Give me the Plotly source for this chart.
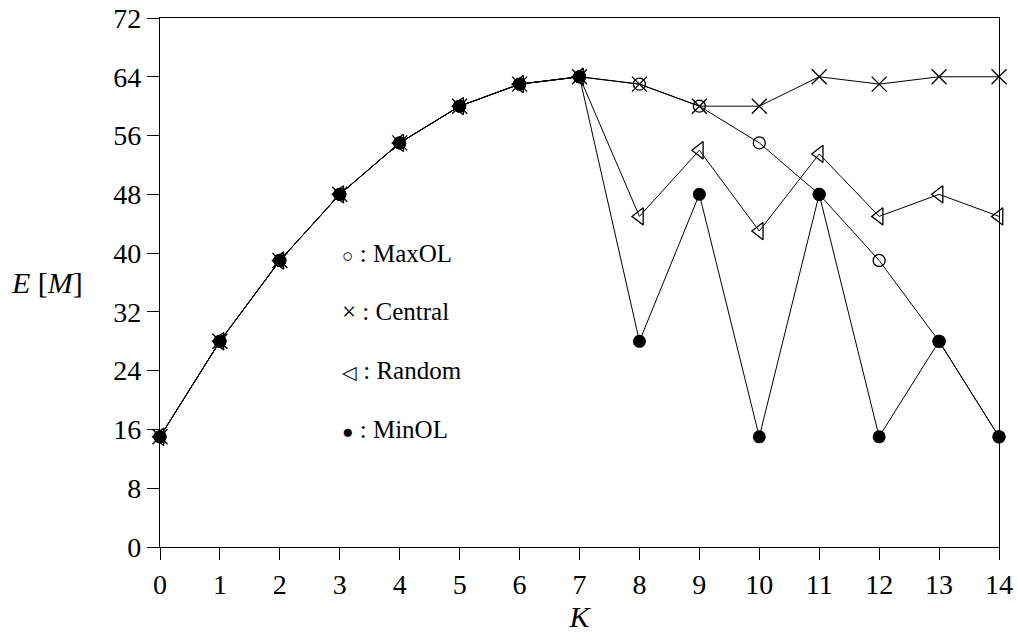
import plotly.graph_objects as go

K = list(range(15))
maxol = [15, 28, 39, 48, 55, 60, 63, 64, 63, 60, 55, 48, 39, 28, 15]
central = [15, 28, 39, 48, 55, 60, 63, 64, 63, 60, 60, 64, 63, 64, 64]
random_ = [15, 28, 39, 48, 55, 60, 63, 64, 45, 54, 43, 53.5, 45, 48, 45]
minol = [15, 28, 39, 48, 55, 60, 63, 64, 28, 48, 15, 48, 15, 28, 15]

legend_symbols = ["○", "×", "◁", "●"]
legend_sym_sizes = [19, 25, 19, 19]
legend_names = ["MaxOL", "Central", "Random", "MinOL"]
legend_y = [40, 32, 24, 16]
yticks = list(range(0, 73, 8))

FONT = "Liberation Serif"

fig = go.Figure()
line = dict(color="black", width=1)
fig.add_trace(go.Scatter(x=K, y=central, mode="lines+markers", line=line,
                         marker=dict(symbol="x-thin-open", size=15, color="black",
                                     line=dict(color="black", width=1.3)),
                         cliponaxis=False, showlegend=False))
fig.add_trace(go.Scatter(x=K, y=maxol, mode="lines+markers", line=line,
                         marker=dict(symbol="circle-open", size=12, color="black",
                                     line=dict(color="black", width=1.3)),
                         cliponaxis=False, showlegend=False))
fig.add_trace(go.Scatter(x=K, y=random_, mode="lines+markers", line=line,
                         marker=dict(symbol="triangle-left-open", size=15, color="black",
                                     line=dict(color="black", width=1.3)),
                         cliponaxis=False, showlegend=False))
fig.add_trace(go.Scatter(x=K, y=minol, mode="lines+markers", line=line,
                         marker=dict(symbol="circle", size=13, color="black"),
                         cliponaxis=False, showlegend=False))

for sym, ss, name, yy in zip(legend_symbols, legend_sym_sizes, legend_names, legend_y):
    fig.add_annotation(x=3.0, y=yy,
                       text=f"<span style='font-size:{ss}px'>{sym}</span> : {name}",
                       showarrow=False, xanchor="left", yanchor="middle",
                       font=dict(family=FONT, size=25, color="black"))

fig.add_annotation(x=-0.089, xref="paper", y=36, yref="y",
                   text="<i>E</i> [<i>M</i>]", showarrow=False, xanchor="right",
                   yanchor="middle", font=dict(family=FONT, size=30, color="black"))

fig.update_layout(
    width=1017, height=638,
    margin=dict(l=160, r=18, t=18, b=91),
    plot_bgcolor="white", paper_bgcolor="white",
    font=dict(family=FONT, size=28, color="black"),
    xaxis=dict(range=[0, 14], tickvals=K, ticks="outside", ticklen=12, tickwidth=1.3,
               tickcolor="black", showline=True, linecolor="black", linewidth=1.3,
               mirror=True, showgrid=False, zeroline=False, automargin=False,
               tickfont=dict(family=FONT, size=28),
               title=dict(text="<i>K</i>", font=dict(family=FONT, size=30), standoff=2)),
    yaxis=dict(range=[0, 72], tickvals=yticks, ticks="outside", ticklen=12, tickwidth=1.3,
               tickcolor="black", showline=True, linecolor="black", linewidth=1.3,
               mirror=True, showgrid=False, zeroline=False, automargin=False,
               tickfont=dict(family=FONT, size=28)),
)

fig.write_html("out.html", config={"displayModeBar": False},
               post_script="document.body.style.margin='0';document.body.style.overflow='hidden';")
